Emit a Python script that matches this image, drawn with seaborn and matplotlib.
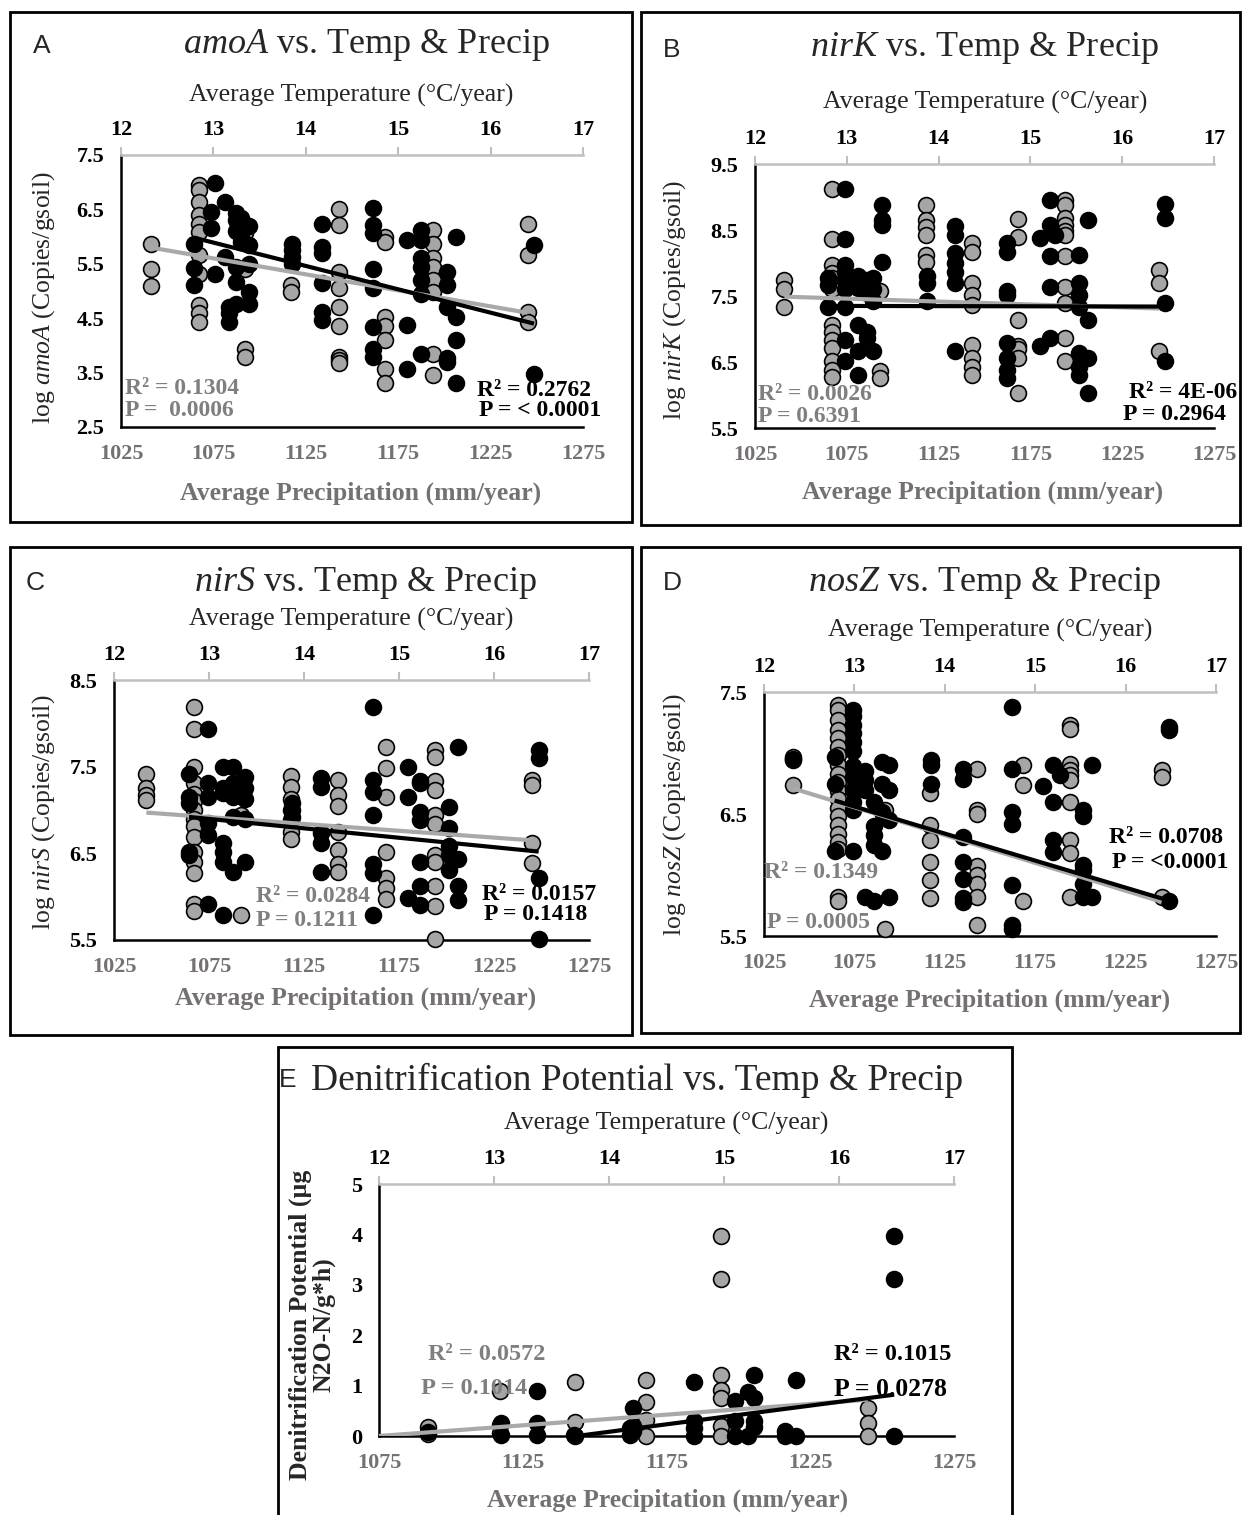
import numpy as np
import pandas as pd
import matplotlib
matplotlib.use("Agg")
import matplotlib.pyplot as plt
import seaborn as sns
from matplotlib.patches import Rectangle

# ---------------- data ----------------
# Panel A : amoA
amoA_precip_x = [1041]*3 + [1067]*11 + [1092]*4 + [1117]*2 + [1143]*9 + [1168]*7 + [1194]*8 + [1245]*4
amoA_precip_y = [5.86, 5.41, 5.10,
                 6.95, 6.86, 6.64, 6.40, 6.24, 6.09, 5.66, 5.32, 4.74, 4.59, 4.43,
                 6.06, 5.41, 3.94, 3.79,
                 5.11, 4.98,
                 6.51, 6.21, 5.35, 5.05, 4.71, 4.36, 3.79, 3.73, 3.67,
                 6.00, 5.90, 4.52, 4.36, 4.10, 3.56, 3.31,
                 6.12, 5.86, 5.60, 5.44, 5.20, 4.98, 3.85, 3.45,
                 6.23, 5.66, 4.62, 4.43]
amoA_temp_x = ([12.79]*3 + [12.97]*2 + [13.02]*2 + [13.13]*2 + [13.17]*3 + [13.24]*6 + [13.30]*3 +
               [13.38]*5 + [13.85]*4 + [14.18]*6 + [14.73]*8 + [15.10]*3 + [15.25]*7 + [15.53]*5 +
               [15.63]*4 + [16.47]*2)
amoA_temp_y = [5.87, 5.43, 5.11,
               6.46, 6.15,
               6.98, 5.32,
               6.64, 5.63,
               4.71, 4.59, 4.43,
               6.43, 6.30, 6.10, 5.44, 5.17, 4.77,
               6.35, 6.00, 5.90,
               6.20, 5.84, 5.50, 4.98, 4.76,
               5.87, 5.75, 5.63, 5.50,
               6.24, 5.81, 5.69, 5.14, 4.62, 4.46,
               6.52, 6.21, 6.06, 5.41, 5.05, 4.34, 3.94, 3.79,
               5.94, 4.37, 3.57,
               6.12, 5.94, 5.60, 5.44, 5.20, 4.95, 3.85,
               5.35, 5.11, 4.71, 3.76, 3.70,
               6.00, 4.52, 4.10, 3.31,
               5.84, 3.48]
amoA_gray_trend_x, amoA_gray_trend_y = [1041, 1245], [5.80, 4.60]
amoA_black_trend_x, amoA_black_trend_y = [12.79, 16.47], [5.98, 4.40]

# Panel B : nirK
nirK_precip_x = [1041]*3 + [1067]*14 + [1093]*3 + [1118]*6 + [1143]*9 + [1168]*7 + [1194]*11 + [1245]*3
nirK_precip_y = [7.75, 7.60, 7.33,
                 9.12, 8.36, 7.97, 7.85, 7.77, 7.70, 7.60, 7.06, 6.96, 6.84, 6.71, 6.51, 6.38, 6.28,
                 7.57, 6.36, 6.26,
                 8.88, 8.65, 8.55, 8.43, 8.12, 8.02,
                 8.31, 8.17, 7.70, 7.52, 7.37, 6.76, 6.56, 6.43, 6.31,
                 8.66, 8.39, 7.14, 6.74, 6.69, 6.56, 6.03,
                 8.96, 8.88, 8.68, 8.58, 8.48, 8.43, 8.10, 7.64, 7.39, 6.86, 6.51,
                 7.89, 7.70, 6.66]
nirK_temp_x = ([12.80]*3 + [12.98]*9 + [13.12]*5 + [13.22]*4 + [13.28]*4 + [13.38]*4 + [13.87]*3 +
               [14.18]*7 + [14.74]*8 + [15.10]*2 + [15.21]*5 + [15.27] + [15.53]*7 + [15.63]*4 + [16.47]*4)
nirK_temp_y = [7.77, 7.67, 7.34,
               9.12, 8.36, 7.97, 7.87, 7.74, 7.60, 7.34, 6.84, 6.51,
               7.80, 7.62, 7.06, 6.66, 6.31,
               7.75, 7.55, 6.96, 6.86,
               7.78, 7.60, 7.42, 6.66,
               8.88, 8.65, 8.58, 8.02,
               7.80, 7.70, 7.42,
               8.56, 8.43, 8.15, 8.00, 7.87, 7.70, 6.66,
               8.30, 8.17, 7.57, 7.52, 6.79, 6.56, 6.38, 6.26,
               8.38, 6.74,
               8.96, 8.58, 8.10, 7.64, 6.86,
               8.43,
               8.12, 7.70, 7.52, 7.34, 6.64, 6.43, 6.31,
               8.65, 7.14, 6.56, 6.03,
               8.90, 8.68, 7.39, 6.51]
nirK_gray_trend_x, nirK_gray_trend_y = [1041, 1245], [7.49, 7.31]
nirK_black_trend_x, nirK_black_trend_y = [12.80, 16.47], [7.35, 7.34]

# Panel C : nirS
nirS_precip_x = [1042]*4 + [1067]*15 + [1092]*2 + [1118]*7 + [1143]*7 + [1168]*7 + [1194]*11 + [1245]*4
nirS_precip_y = [7.42, 7.25, 7.17, 7.12,
                 8.19, 7.94, 7.50, 7.31, 7.19, 7.10, 7.00, 6.90, 6.81, 6.69, 6.52, 6.40, 6.27, 5.92, 5.83,
                 6.94, 5.79,
                 7.39, 7.26, 7.13, 7.00, 6.88, 6.75, 6.67,
                 7.35, 7.17, 7.05, 6.75, 6.54, 6.38, 6.28,
                 7.73, 7.49, 7.15, 6.52, 6.21, 6.10, 5.97,
                 7.69, 7.61, 7.33, 7.23, 6.94, 6.84, 6.48, 6.40, 6.12, 5.89, 5.51,
                 7.35, 7.29, 6.62, 6.39]
nirS_temp_x = ([12.79]*5 + [12.99]*6 + [13.15]*7 + [13.25]*6 + [13.38]*5 + [13.87]*3 + [14.18]*5 +
               [14.73]*7 + [15.10]*3 + [15.22]*7 + [15.53]*5 + [15.62]*4 + [16.47]*4)
nirS_temp_y = [7.42, 7.15, 7.08, 6.52, 6.48,
               7.94, 7.31, 7.15, 6.85, 6.71, 5.92,
               7.50, 7.25, 7.20, 6.62, 6.52, 6.40, 5.79,
               7.50, 7.31, 7.27, 7.15, 6.92, 6.28,
               7.38, 7.25, 7.13, 6.90, 6.40,
               7.08, 7.00, 6.92,
               7.37, 7.27, 6.73, 6.62, 6.29,
               8.19, 7.35, 7.21, 6.94, 6.38, 6.27, 5.79,
               7.50, 7.15, 5.98,
               7.33, 7.31, 6.98, 6.88, 6.40, 6.12, 5.90,
               7.04, 6.79, 6.58, 6.48, 6.31,
               7.73, 6.44, 6.12, 5.96,
               7.69, 7.60, 6.21, 5.51]
nirS_gray_trend_x, nirS_gray_trend_y = [1042, 1245], [6.97, 6.65]
nirS_black_trend_x, nirS_black_trend_y = [12.79, 16.47], [6.92, 6.52]

# Panel D : nosZ
nosZ_precip_x = [1041]*3 + [1066]*20 + [1092]*2 + [1117]*6 + [1143]*8 + [1168]*3 + [1194]*10 + [1245]*3
nosZ_precip_y = [6.97, 6.94, 6.74,
                 7.39, 7.35, 7.27, 7.19, 7.12, 7.05, 6.98, 6.90, 6.83, 6.76, 6.69, 6.62, 6.55, 6.48,
                 6.41, 6.34, 6.27, 6.21, 5.82, 5.79,
                 6.53, 5.56,
                 6.67, 6.41, 6.29, 6.11, 5.96, 5.81,
                 6.87, 6.53, 6.50, 6.07, 6.00, 5.93, 5.82, 5.59,
                 6.90, 6.74, 5.79,
                 7.23, 7.20, 6.91, 6.86, 6.82, 6.78, 6.60, 6.29, 6.18, 5.82,
                 6.86, 6.80, 5.82]
nosZ_temp_x = ([12.32] + [12.78]*3 + [12.99]*12 + [13.12]*4 + [13.22]*5 + [13.30]*4 + [13.38]*4 +
               [13.85]*3 + [14.20]*7 + [14.74]*7 + [15.09] + [15.20]*4 + [15.27] + [15.53]*6 +
               [15.63]*2 + [16.48]*3)
nosZ_temp_y = [6.95,
               6.97, 6.75, 6.20,
               7.35, 7.30, 7.23, 7.16, 7.09, 7.02, 6.89, 6.80, 6.70, 6.60, 6.53, 6.20,
               6.85, 6.78, 6.70, 5.82,
               6.60, 6.40, 6.33, 6.25, 5.79,
               6.93, 6.75, 6.52, 6.20,
               6.90, 6.70, 6.45, 5.82,
               6.94, 6.90, 6.75,
               6.87, 6.79, 6.31, 6.11, 5.97, 5.81, 5.78,
               7.38, 6.87, 6.52, 6.42, 5.92, 5.59, 5.56,
               6.73,
               6.90, 6.60, 6.29, 6.19,
               6.82,
               6.53, 6.48, 6.08, 6.04, 5.93, 5.82,
               6.90, 5.82,
               7.21, 7.19, 5.79]
nosZ_gray_trend_x, nosZ_gray_trend_y = [1041, 1245], [6.71, 5.78]
nosZ_black_trend_x, nosZ_black_trend_y = [12.78, 16.48], [6.61, 5.79]

# Panel E : denitrification potential
dnp_precip_x = [1092]*2 + [1117]*3 + [1143]*3 + [1168]*4 + [1194]*7 + [1245]*3
dnp_precip_y = [0.18, 0.03,
                0.90, 0.22, 0.05,
                1.07, 0.28, 0.0,
                1.11, 0.68, 0.32, 0.0,
                3.97, 3.12, 1.22, 0.91, 0.75, 0.19, 0.0,
                0.55, 0.25, 0.0]
dnp_temp_x = ([12.43] + [13.06]*2 + [13.37]*3 + [13.70] + [14.18]*2 + [14.21]*3 + [14.74]*4 +
              [15.10]*3 + [15.21]*2 + [15.26]*4 + [15.53]*2 + [15.63]*2 + [16.48]*3)
dnp_temp_y = [0.08,
              0.25, 0.02,
              0.90, 0.25, 0.02,
              0.02,
              0.15, 0.02,
              0.55, 0.20, 0.10,
              1.07, 0.30, 0.15, 0.0,
              0.70, 0.30, 0.0,
              0.88, 0.0,
              1.22, 0.75, 0.30, 0.18,
              0.10, 0.0,
              1.12, 0.0,
              3.97, 3.12, 0.0]
dnp_gray_trend_x, dnp_gray_trend_y = [1075, 1245], [0.0, 0.72]
dnp_black_trend_x, dnp_black_trend_y = [13.72, 16.48], [0.0, 0.82]

temp_ticks = [12, 13, 14, 15, 16, 17]

# ---------------- styling ----------------
W, H = 1246, 1515
sns.set_style("white")
plt.rcParams['font.family'] = ['Liberation Serif', 'DejaVu Serif']
plt.rcParams['mathtext.fontset'] = 'custom'
plt.rcParams['mathtext.rm'] = 'Liberation Serif'
plt.rcParams['mathtext.it'] = 'Liberation Serif:italic'
plt.rcParams['mathtext.bf'] = 'Liberation Serif:bold'

GRAY_PT = '#A6A6A6'
GRAY_LINE = '#A9A9A9'
GRAY_TXT = '#7F7F7F'
PRECIP_TXT = '#767171'
GRAY_AX = '#BFBFBF'

fig = plt.figure(figsize=(W / 100, H / 100), dpi=100)


def fx(px):
    return px / W


def fy(py):
    return 1 - py / H


def add_box(x0, y0, x1, y1):
    fig.patches.append(Rectangle((fx(x0), fy(y1)), (x1 - x0) / W, (y1 - y0) / H,
                                 transform=fig.transFigure, fill=False,
                                 edgecolor='black', linewidth=2))


def panel(cfg):
    x0, y0, x1, y1 = cfg['axpx']
    ax = fig.add_axes([fx(x0), fy(y1), (x1 - x0) / W, (y1 - y0) / H])
    ax2 = ax.twiny()

    sns.scatterplot(x=cfg['px'], y=cfg['py'], ax=ax, color=GRAY_PT, edgecolor='black',
                    linewidth=1.2, s=130, zorder=3, legend=False, clip_on=False)
    sns.scatterplot(x=cfg['tx'], y=cfg['ty'], ax=ax2, color='black', edgecolor='black',
                    linewidth=1.2, s=130, zorder=3, legend=False, clip_on=False)
    ax2.plot(cfg['gtx'], cfg['gty'], color=GRAY_LINE, lw=3, transform=ax.transData, zorder=4,
             solid_capstyle='butt')
    ax2.plot(cfg['btx'], cfg['bty'], color='black', lw=3, zorder=5, solid_capstyle='butt')

    ax.set_xlim(cfg['xlim'])
    ax.set_ylim(cfg['ylim'])
    ax2.set_xlim(12, 17)
    ax.set_xticks(cfg['xticks'])
    ax.set_xticklabels([str(v) for v in cfg['xticks']])
    ax.set_yticks(cfg['yticks'])
    ax.set_yticklabels([cfg['yfmt'].format(v) for v in cfg['yticks']])
    ax2.set_xticks(temp_ticks)
    ax2.set_xticklabels([str(v) for v in temp_ticks])
    ax.set_xlabel('')
    ax.set_ylabel('')
    ax2.set_xlabel('')
    ax2.set_ylabel('')
    ax.grid(False)
    ax2.grid(False)

    for s in ['top', 'right']:
        ax.spines[s].set_visible(False)
    for s in ['left', 'bottom']:
        ax.spines[s].set_color('black')
        ax.spines[s].set_linewidth(1.8)
    for s in ['bottom', 'left', 'right']:
        ax2.spines[s].set_visible(False)
    ax2.spines['top'].set_color(GRAY_AX)
    ax2.spines['top'].set_linewidth(1.8)

    ax.tick_params(axis='x', bottom=True, length=0, pad=12, labelsize=16, labelcolor=PRECIP_TXT)
    ax.tick_params(axis='y', left=True, length=0, pad=12, labelsize=16, labelcolor='black')
    ax2.tick_params(axis='x', top=True, direction='out', length=6, width=1.5, color=GRAY_AX,
                    pad=5, labelsize=16, labelcolor='black')
    for lab in ax.get_xticklabels() + ax.get_yticklabels() + ax2.get_xticklabels():
        lab.set_fontweight('bold')

    # texts
    fig.text(fx(cfg['letter'][0]), fy(cfg['letter'][1]), cfg['letter'][2], ha='center', va='center',
             fontsize=19, family=['Liberation Sans', 'DejaVu Sans'])
    fig.text(fx(cfg['title'][0]), fy(cfg['title'][1]), cfg['title'][2], ha='center', va='center',
             fontsize=cfg.get('title_fs', 26))
    fig.text(fx(cfg['tlab'][0]), fy(cfg['tlab'][1]), 'Average Temperature (°C/year)', ha='center',
             va='center', fontsize=18.5)
    fig.text(fx(cfg['plab'][0]), fy(cfg['plab'][1]), 'Average Precipitation (mm/year)', ha='center',
             va='center', fontsize=18.5, fontweight='bold', color=PRECIP_TXT)
    yl = cfg['ylab']
    fig.text(fx(yl[0]), fy(yl[1]), yl[2], ha='center', va='center', rotation=90,
             fontsize=yl[3], fontweight=yl[4], linespacing=1.05)
    for (x, y, s, ha, col, fs) in cfg['stats']:
        fig.text(fx(x), fy(y), s, ha=ha, va='center', fontsize=fs, fontweight='bold', color=col)
    return ax, ax2


# boxes
add_box(10, 12, 632, 522)
add_box(641, 12, 1240, 525)
add_box(10, 547, 632, 1035)
add_box(641, 547, 1240, 1033)
add_box(278, 1047, 1012, 1530)

prec_ticks = [1025, 1075, 1125, 1175, 1225, 1275]
prec_ticks_e = [1075, 1125, 1175, 1225, 1275]

panels = [
    dict(axpx=(121, 155, 583, 427), px=amoA_precip_x, py=amoA_precip_y, tx=amoA_temp_x, ty=amoA_temp_y,
         gtx=amoA_gray_trend_x, gty=amoA_gray_trend_y, btx=amoA_black_trend_x, bty=amoA_black_trend_y,
         xlim=(1025, 1275), ylim=(2.5, 7.5), xticks=prec_ticks, yticks=[2.5, 3.5, 4.5, 5.5, 6.5, 7.5],
         yfmt='{:.1f}', letter=(42, 46, 'A'), title=(366, 45, r'$\mathit{amoA}$ vs. Temp & Precip'),
         tlab=(351, 95), plab=(361, 493), ylab=(44, 298, r'log $\mathit{amoA}$ (Copies/gsoil)', 18.5, 'normal'),
         stats=[(125, 388, 'R² = 0.1304', 'left', GRAY_TXT, 17), (125, 410, 'P =  0.0006', 'left', GRAY_TXT, 17),
                (477, 390, 'R² = 0.2762', 'left', 'black', 17), (479, 411, 'P = < 0.0001', 'left', 'black', 17)]),
    dict(axpx=(755, 164, 1214, 428), px=nirK_precip_x, py=nirK_precip_y, tx=nirK_temp_x, ty=nirK_temp_y,
         gtx=nirK_gray_trend_x, gty=nirK_gray_trend_y, btx=nirK_black_trend_x, bty=nirK_black_trend_y,
         xlim=(1025, 1275), ylim=(5.5, 9.5), xticks=prec_ticks, yticks=[5.5, 6.5, 7.5, 8.5, 9.5],
         yfmt='{:.1f}', letter=(672, 50, 'B'), title=(984, 48, r'$\mathit{nirK}$ vs. Temp & Precip'),
         tlab=(985, 102), plab=(983, 492), ylab=(675, 300, r'log $\mathit{nirK}$ (Copies/gsoil)', 18.5, 'normal'),
         stats=[(758, 395, 'R² = 0.0026', 'left', GRAY_TXT, 17), (758, 416, 'P = 0.6391', 'left', GRAY_TXT, 17),
                (1237, 393, 'R² = 4E-06', 'right', 'black', 17), (1226, 415, 'P = 0.2964', 'right', 'black', 17)]),
    dict(axpx=(114, 680, 589, 940), px=nirS_precip_x, py=nirS_precip_y, tx=nirS_temp_x, ty=nirS_temp_y,
         gtx=nirS_gray_trend_x, gty=nirS_gray_trend_y, btx=nirS_black_trend_x, bty=nirS_black_trend_y,
         xlim=(1025, 1275), ylim=(5.5, 8.5), xticks=prec_ticks, yticks=[5.5, 6.5, 7.5, 8.5],
         yfmt='{:.1f}', letter=(35, 583, 'C'), title=(365, 583, r'$\mathit{nirS}$ vs. Temp & Precip'),
         tlab=(351, 619), plab=(356, 998), ylab=(44, 812, r'log $\mathit{nirS}$ (Copies/gsoil)', 18.5, 'normal'),
         stats=[(256, 897, 'R² = 0.0284', 'left', GRAY_TXT, 17), (256, 920, 'P = 0.1211', 'left', GRAY_TXT, 17),
                (482, 894, 'R² = 0.0157', 'left', 'black', 17), (484, 915, 'P = 0.1418', 'left', 'black', 17)]),
    dict(axpx=(764, 692, 1216, 936), px=nosZ_precip_x, py=nosZ_precip_y, tx=nosZ_temp_x, ty=nosZ_temp_y,
         gtx=nosZ_gray_trend_x, gty=nosZ_gray_trend_y, btx=nosZ_black_trend_x, bty=nosZ_black_trend_y,
         xlim=(1025, 1275), ylim=(5.5, 7.5), xticks=prec_ticks, yticks=[5.5, 6.5, 7.5],
         yfmt='{:.1f}', letter=(672, 583, 'D'), title=(984, 583, r'$\mathit{nosZ}$ vs. Temp & Precip'),
         tlab=(990, 630), plab=(990, 1000), ylab=(675, 815, r'log $\mathit{nosZ}$ (Copies/gsoil)', 18.5, 'normal'),
         stats=[(764, 872, 'R² = 0.1349', 'left', GRAY_TXT, 17), (767, 923, 'P = 0.0005', 'left', GRAY_TXT, 17),
                (1109, 837, 'R² = 0.0708', 'left', 'black', 17), (1112, 862, 'P = <0.0001', 'left', 'black', 17)]),
    dict(axpx=(379, 1184, 954, 1436), px=dnp_precip_x, py=dnp_precip_y, tx=dnp_temp_x, ty=dnp_temp_y,
         gtx=dnp_gray_trend_x, gty=dnp_gray_trend_y, btx=dnp_black_trend_x, bty=dnp_black_trend_y,
         xlim=(1075, 1275), ylim=(0, 5), xticks=prec_ticks_e, yticks=[0, 1, 2, 3, 4, 5],
         yfmt='{:.0f}', letter=(288, 1080, 'E'), title=(637, 1080, 'Denitrification Potential vs. Temp & Precip'),
         title_fs=27, tlab=(666, 1123), plab=(668, 1500),
         ylab=(312, 1325, 'Denitrification Potential (µg\nN2O-N/g*h)', 18.5, 'bold'),
         stats=[(428, 1355, 'R² = 0.0572', 'left', GRAY_TXT, 17.5), (421, 1388, 'P = 0.1014', 'left', GRAY_TXT, 17.5),
                (951, 1355, 'R² = 0.1015', 'right', 'black', 17.5), (947, 1389, 'P = 0.0278', 'right', 'black', 18.5)]),
]

for cfg in panels:
    panel(cfg)

fig.savefig('out.png', dpi=100)
